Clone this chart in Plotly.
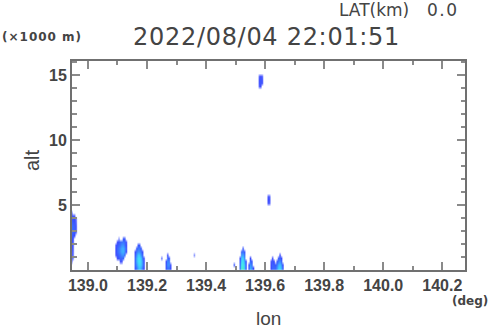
import numpy as np
import plotly.graph_objects as go

# ---- data: radar echo vertical profiles (lon column, base altitude km, values upward every 0.25 km)
prof_lon = [
    138.945, 138.950, 138.955, 138.960,
    139.095, 139.100, 139.105, 139.110, 139.115, 139.120, 139.125, 139.130, 139.105,
    139.160, 139.165, 139.170, 139.175, 139.180, 139.185, 139.190,
    139.250, 139.265, 139.270, 139.275, 139.280, 139.360,
    139.495, 139.515, 139.520, 139.525, 139.530, 139.535,
    139.545, 139.550, 139.555, 139.560,
    139.580, 139.585, 139.590,
    139.610, 139.615,
    139.620, 139.625, 139.630, 139.635, 139.640, 139.645, 139.650, 139.655, 139.660,
]
prof_base = [
    0.5, 0.75, 2.5, 2.75,
    1.0, 0.75, 0.75, 0.5, 0.5, 0.75, 1.0, 1.25, 2.25,
    0.0, 0.0, 0.0, 0.0, 0.0, 0.0, 0.0,
    0.75, 0.0, 0.0, 0.0, 0.0, 1.0,
    0.25, 0.0, 0.0, 0.0, 0.0, 0.0,
    0.0, 0.0, 0.0, 0.0,
    14.0, 14.0, 14.25,
    5.0, 5.0,
    0.0, 0.0, 0.0, 0.0, 0.0, 0.0, 0.0, 0.0, 0.0,
]
prof_vals = [
    [0.2, 0.22, 0.25, 0.25, 0.28, 0.3, 0.32, 0.35, 0.38, 0.4, 0.42, 0.42, 0.4, 0.38, 0.34, 0.28],
    [0.12, 0.15, 0.18, 0.2, 0.22, 0.25, 0.3, 0.35, 0.38, 0.4, 0.4, 0.36, 0.32, 0.25],
    [0.3, 0.35, 0.38, 0.38, 0.35, 0.3, 0.25],
    [0.18, 0.25, 0.25, 0.2, 0.15],
    [0.25, 0.3, 0.3, 0.25],
    [0.3, 0.35, 0.4, 0.4, 0.35, 0.3],
    [0.35, 0.4, 0.45, 0.45, 0.4, 0.35],
    [0.25, 0.4, 0.45, 0.5, 0.5, 0.45, 0.4],
    [0.25, 0.4, 0.5, 0.55, 0.55, 0.5, 0.45],
    [0.4, 0.5, 0.55, 0.55, 0.5, 0.45, 0.35],
    [0.4, 0.5, 0.5, 0.45, 0.4, 0.35],
    [0.3, 0.35, 0.3, 0.25],
    [0.1],
    [0.35, 0.4, 0.4, 0.4, 0.35, 0.3],
    [0.45, 0.5, 0.55, 0.55, 0.5, 0.45, 0.35],
    [0.55, 0.6, 0.65, 0.65, 0.6, 0.5, 0.45, 0.35],
    [0.6, 0.65, 0.7, 0.68, 0.6, 0.5, 0.45, 0.35],
    [0.55, 0.6, 0.62, 0.6, 0.5, 0.45, 0.35],
    [0.45, 0.5, 0.5, 0.45, 0.4, 0.3],
    [0.3, 0.35, 0.3, 0.25],
    [0.15],
    [0.35, 0.35, 0.3],
    [0.45, 0.5, 0.5, 0.4, 0.3],
    [0.45, 0.5, 0.45, 0.35],
    [0.3, 0.25],
    [0.1],
    [0.35],
    [0.45, 0.4, 0.35, 0.3],
    [0.75, 0.7, 0.65, 0.6, 0.5, 0.4],
    [0.8, 0.75, 0.7, 0.65, 0.55, 0.45, 0.35],
    [0.6, 0.6, 0.55, 0.5, 0.45, 0.35],
    [0.35, 0.35, 0.3],
    [0.35, 0.3],
    [0.55, 0.5, 0.4, 0.3],
    [0.5, 0.45, 0.35],
    [0.3],
    [0.2, 0.25, 0.25, 0.2],
    [0.3, 0.35, 0.35, 0.3],
    [0.25, 0.25, 0.2],
    [0.25, 0.3, 0.25],
    [0.2, 0.25, 0.2],
    [0.3, 0.3, 0.25],
    [0.4, 0.4, 0.35, 0.3],
    [0.4, 0.35, 0.3],
    [0.4, 0.35],
    [0.5, 0.45, 0.35],
    [0.6, 0.55, 0.45, 0.35],
    [0.65, 0.6, 0.5, 0.4, 0.3],
    [0.55, 0.5, 0.4, 0.3],
    [0.35, 0.3],
]
x_ticks = [139.0, 139.2, 139.4, 139.6, 139.8, 140.0, 140.2]
x_tick_text = ["139.0", "139.2", "139.4", "139.6", "139.8", "140.0", "140.2"]
y_ticks = [5, 10, 15]
y_tick_text = ["5", "10", "15"]
title_text = "2022/08/04 22:01:51"

# ---- build regular grid table from profiles
DX, DY = 0.005, 0.25
X0 = 138.945
nx, ny = 268, 65
xs = [X0 + DX * i for i in range(nx)]
ys = [DY * j + DY / 2 for j in range(ny)]
z = np.full((ny, nx), np.nan)
for lon, base, vals in zip(prof_lon, prof_base, prof_vals):
    i = int(round((lon - X0) / DX))
    j0 = int(round(base / DY))
    for k, v in enumerate(vals):
        z[j0 + k, i] = v

colorscale = [
    [0.0, "#c0c8ff"], [0.15, "#6272ff"], [0.3, "#3a48ff"], [0.45, "#3c76ff"],
    [0.6, "#3ec8ff"], [0.72, "#44eef0"], [0.85, "#54f0a8"], [1.0, "#70ff60"],
]

fig = go.Figure(go.Heatmap(
    x=xs, y=ys, z=z, zmin=0, zmax=1, colorscale=colorscale,
    showscale=False, zsmooth="fast", hoverinfo="skip",
))

axis_common = dict(
    showline=True, linecolor="#707070", linewidth=2, mirror="allticks",
    ticks="inside", ticklen=8, tickwidth=1.5, tickcolor="#8a8a8a",
    showgrid=False, zeroline=False,
    tickfont=dict(family="Liberation Sans", size=16, color="#444444"),
)

fig.update_layout(
    width=490, height=331,
    margin=dict(l=72, r=25, t=61, b=61),
    paper_bgcolor="white", plot_bgcolor="white",
    showlegend=False,
    xaxis=dict(range=[138.946, 140.277], tickvals=x_ticks,
               ticktext=["<b>" + t + "</b>" for t in x_tick_text],
               minor=dict(dtick=0.1, tick0=139.0, ticks="inside", ticklen=4,
                          tickcolor="#8a8a8a", tickwidth=1.5),
               **axis_common),
    yaxis=dict(range=[0, 16.08], tickvals=y_ticks,
               ticktext=["<b>" + t + "</b>" for t in y_tick_text],
               minor=dict(dtick=1, tick0=0, ticks="inside", ticklen=4.5,
                          tickcolor="#8a8a8a", tickwidth=1.5),
               **axis_common),
)

ann_color = "#444444"
fig.add_annotation(text='<span style="letter-spacing:0.7px">' + title_text + '</span>',
                   xref="paper", yref="paper", x=(266 - 72) / 393, y=1.0, yshift=8,
                   xanchor="center", yanchor="bottom", showarrow=False,
                   font=dict(family="DejaVu Sans", size=24, color=ann_color))
fig.add_annotation(text="LAT(km)", xref="paper", yref="paper",
                   x=(337 - 72) / 393, y=1.0, yshift=39, xanchor="left", yanchor="bottom",
                   showarrow=False, font=dict(family="DejaVu Sans", size=17, color=ann_color))
fig.add_annotation(text='<span style="letter-spacing:1.5px">0.0</span>', xref="paper", yref="paper",
                   x=(461 - 72) / 393, y=1.0, yshift=39, xanchor="right", yanchor="bottom",
                   showarrow=False, font=dict(family="DejaVu Sans", size=17, color=ann_color))
fig.add_annotation(text='<span style="letter-spacing:1px">(\u00d71000 m)</span>', xref="paper", yref="paper",
                   x=-72 / 393, y=1.0, yshift=15, xanchor="left", yanchor="bottom",
                   showarrow=False, font=dict(family="DejaVu Sans", size=12, color=ann_color, weight="bold"))
fig.add_annotation(text="(deg)", xref="paper", yref="paper",
                   x=(450 - 72) / 393, y=0, yshift=-22, xanchor="left", yanchor="top",
                   showarrow=False, font=dict(family="DejaVu Sans", size=12, color=ann_color, weight="bold"))
fig.add_annotation(text="lon", xref="paper", yref="paper",
                   x=(268 - 72) / 393, y=0, yshift=-37, xanchor="center", yanchor="top",
                   borderpad=0,
                   showarrow=False, font=dict(family="Liberation Sans", size=19, color=ann_color))
fig.add_annotation(text="alt", xref="paper", yref="paper", textangle=-90,
                   x=-40 / 393, y=(270 - 160) / 209, xanchor="center", yanchor="middle",
                   showarrow=False, font=dict(family="Liberation Sans", size=20, color=ann_color))

fig.write_html("out.html")
